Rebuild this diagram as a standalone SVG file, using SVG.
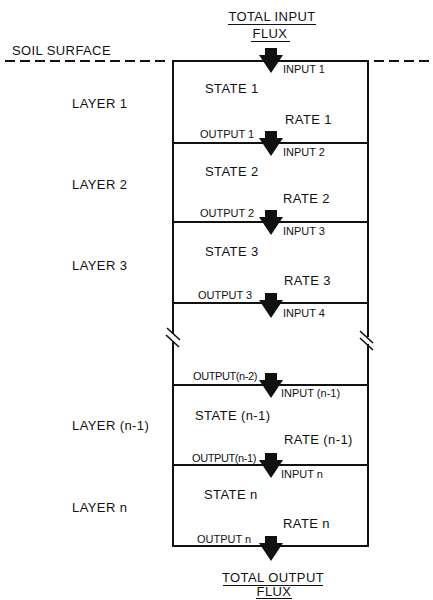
<svg xmlns="http://www.w3.org/2000/svg" width="433" height="600" viewBox="0 0 433 600">
<defs>
<style>
text{font-family:"Liberation Sans",Arial,sans-serif;fill:#111}
.big{font-size:13px;letter-spacing:0.4px}
.sm{font-size:11px}
.ln{stroke:#111;stroke-width:2;fill:none}
.dash{stroke:#111;stroke-width:2;stroke-dasharray:10 5;fill:none}
.ul{stroke:#111;stroke-width:1.2}
.arr{fill:#111}
</style>
<g id="arrow"><rect class="arr" x="-6" y="-12" width="12" height="8"/><polygon class="arr" points="-12,-5 12,-5 0,13"/></g>
</defs>
<rect width="433" height="600" fill="#fff"/>
<g id="surface">
<line class="dash" x1="5" y1="61" x2="170" y2="61"/>
<line class="dash" x1="374" y1="61" x2="433" y2="61"/>
<text class="big" x="12" y="55">SOIL SURFACE</text>
</g>
<g id="connectors">
<line class="ln" x1="173" y1="61" x2="368" y2="61"/>
<line class="ln" x1="173" y1="143" x2="368" y2="143"/>
<line class="ln" x1="173" y1="222" x2="368" y2="222"/>
<line class="ln" x1="173" y1="303" x2="368" y2="303"/>
<line class="ln" x1="173" y1="385" x2="368" y2="385"/>
<line class="ln" x1="173" y1="465" x2="368" y2="465"/>
<line class="ln" x1="173" y1="546" x2="368" y2="546"/>
<line class="ln" x1="173" y1="60" x2="173" y2="334"/>
<line class="ln" x1="173" y1="341" x2="173" y2="547"/>
<line class="ln" x1="368" y1="60" x2="368" y2="337"/>
<line class="ln" x1="368" y1="344" x2="368" y2="547"/>
<line class="ln" x1="167" y1="328" x2="180" y2="340" style="stroke-width:1.6"/>
<line class="ln" x1="166" y1="335" x2="179" y2="347" style="stroke-width:1.6"/>
<line class="ln" x1="360" y1="331" x2="373" y2="343" style="stroke-width:1.6"/>
<line class="ln" x1="360" y1="338" x2="373" y2="350" style="stroke-width:1.6"/>
<use href="#arrow" x="271" y="60"/>
<use href="#arrow" x="271" y="143"/>
<use href="#arrow" x="271" y="222"/>
<use href="#arrow" x="271" y="305"/>
<use href="#arrow" x="271" y="385"/>
<use href="#arrow" x="271" y="465"/>
<use href="#arrow" x="271" y="548"/>
</g>
<g id="input-flux">
<text class="big" x="272" y="21" text-anchor="middle">TOTAL INPUT</text>
<line class="ul" x1="228" y1="24.5" x2="316" y2="24.5"/>
<text class="big" x="270" y="38" text-anchor="middle">FLUX</text>
<line class="ul" x1="251" y1="41.5" x2="290" y2="41.5"/>
</g>
<g id="layer1">
<text class="big" x="72" y="108">LAYER 1</text>
<text class="sm" x="283" y="73">INPUT 1</text>
<text class="big" x="205" y="93">STATE 1</text>
<text class="big" x="285" y="124">RATE 1</text>
<text class="sm" x="200" y="138">OUTPUT 1</text>
</g>
<g id="layer2">
<text class="big" x="72" y="189">LAYER 2</text>
<text class="sm" x="283" y="156">INPUT 2</text>
<text class="big" x="205" y="176">STATE 2</text>
<text class="big" x="283" y="203">RATE 2</text>
<text class="sm" x="200" y="217">OUTPUT 2</text>
</g>
<g id="layer3">
<text class="big" x="72" y="270">LAYER 3</text>
<text class="sm" x="283" y="235">INPUT 3</text>
<text class="big" x="205" y="256">STATE 3</text>
<text class="big" x="284" y="285">RATE 3</text>
<text class="sm" x="198" y="299">OUTPUT 3</text>
</g>
<g id="layer4">
<text class="sm" x="283" y="317">INPUT 4</text>
<text class="sm" x="193" y="380" style="letter-spacing:-0.4px">OUTPUT(n-2)</text>
</g>
<g id="layer-n-1">
<text class="big" x="72" y="430">LAYER (n-1)</text>
<text class="sm" x="281" y="397">INPUT (n-1)</text>
<text class="big" x="195" y="420">STATE (n-1)</text>
<text class="big" x="284" y="444">RATE (n-1)</text>
<text class="sm" x="192" y="462" style="letter-spacing:-0.4px">OUTPUT(n-1)</text>
</g>
<g id="layer-n">
<text class="big" x="72" y="512">LAYER n</text>
<text class="sm" x="281" y="478">INPUT n</text>
<text class="big" x="204" y="499">STATE n</text>
<text class="big" x="283" y="528">RATE n</text>
<text class="sm" x="197" y="543">OUTPUT n</text>
</g>
<g id="output-flux">
<text class="big" x="273" y="582" text-anchor="middle">TOTAL OUTPUT</text>
<line class="ul" x1="223" y1="585.5" x2="323" y2="585.5"/>
<text class="big" x="274" y="596" text-anchor="middle">FLUX</text>
<line class="ul" x1="256" y1="598.5" x2="292" y2="598.5"/>
</g>
</svg>
